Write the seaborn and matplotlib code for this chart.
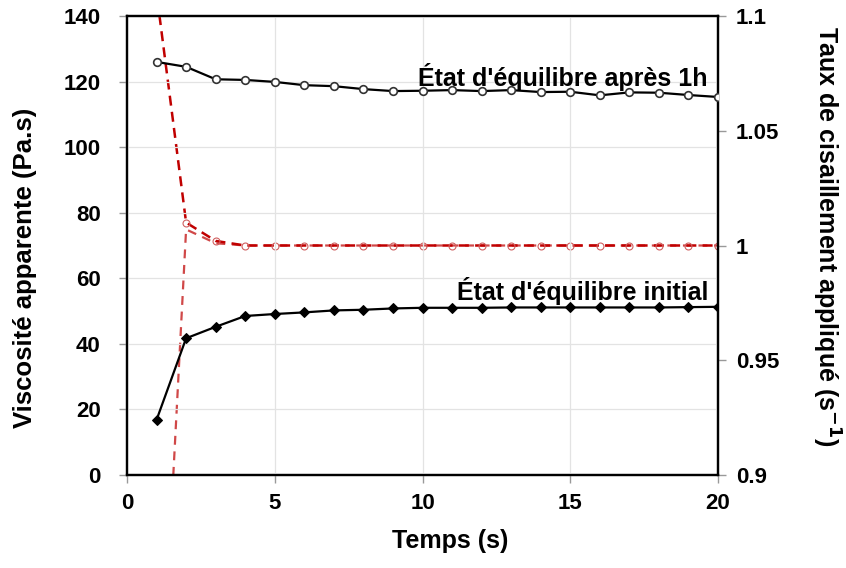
import numpy as np
import pandas as pd
import matplotlib
matplotlib.use('Agg')
import matplotlib.pyplot as plt
import seaborn as sns

# temps (s)
temps = list(range(1, 21))

# viscosite apparente (Pa.s)
visc_apres_1h = [126.0, 124.5, 120.7, 120.5, 119.9, 118.9, 118.6, 117.7, 117.1, 117.2,
                 117.4, 117.1, 117.4, 116.8, 116.9, 115.8, 116.7, 116.6, 115.9, 115.3]
visc_initial = [16.8, 41.7, 45.2, 48.5, 49.1, 49.6, 50.2, 50.4, 50.8, 51.0,
                51.0, 51.0, 51.1, 51.1, 51.1, 51.1, 51.1, 51.1, 51.2, 51.3]

# taux de cisaillement applique (s-1)
taux_apres_1h = [1.11, 1.010, 1.002, 1.0, 1.0, 1.0, 1.0, 1.0, 1.0, 1.0,
                 1.0, 1.0, 1.0, 1.0, 1.0, 1.0, 1.0, 1.0, 1.0, 1.0]
taux_initial = [0.76, 1.007, 1.001, 1.0, 1.0, 1.0, 1.0, 1.0, 1.0, 1.0,
                1.0, 1.0, 1.0, 1.0, 1.0, 1.0, 1.0, 1.0, 1.0, 1.0]

df = pd.DataFrame({'temps': temps, 'visc_1h': visc_apres_1h, 'visc_init': visc_initial,
                   'taux_1h': taux_apres_1h, 'taux_init': taux_initial})

sns.set_style('whitegrid')
plt.rcParams['font.family'] = ['Liberation Sans', 'DejaVu Sans']
plt.rcParams['font.weight'] = 'bold'
plt.rcParams['text.color'] = 'black'
plt.rcParams['axes.labelcolor'] = 'black'

fig = plt.figure(figsize=(8.46, 5.68), dpi=100)
ax = fig.add_axes([127 / 846, 1 - 475 / 568, (718 - 127) / 846, (475 - 16) / 568])
ax2 = ax.twinx()

red = '#c00000'
sns.lineplot(data=df, x='temps', y='taux_init', ax=ax2, color='#d04848', lw=1.6,
             linestyle=(0, (4, 3)), zorder=1)
sns.lineplot(data=df, x='temps', y='taux_1h', ax=ax2, color=red, lw=1.8,
             linestyle=(0, (4, 2.5)), marker='o', markersize=5, markerfacecolor='none',
             markeredgecolor='#d06060', markeredgewidth=0.8, zorder=1)

sns.lineplot(data=df, x='temps', y='visc_1h', ax=ax, color='black', lw=1.6,
             marker='o', markersize=5.5, markerfacecolor='white', markeredgecolor='#333333',
             markeredgewidth=1.2, zorder=3)
sns.lineplot(data=df, x='temps', y='visc_init', ax=ax, color='black', lw=1.6,
             marker='D', markersize=5.5, markerfacecolor='black', markeredgecolor='black', zorder=3)

ax.set_zorder(ax2.get_zorder() + 1)
ax.patch.set_visible(False)

ax.set_xlim(0, 20)
ax.set_ylim(0, 140)
ax.set_xticks([0, 5, 10, 15, 20])
ax.set_yticks(range(0, 141, 20))
ax2.set_ylim(0.9, 1.1)
ax2.set_yticks([0.9, 0.95, 1.0, 1.05, 1.1])
ax2.set_yticklabels(['0.9', '0.95', '1', '1.05', '1.1'])
ax2.grid(False)
ax.grid(True, color='#e3e3e3', lw=0.9)

for a in (ax, ax2):
    a.tick_params(labelsize=16, length=6, width=1, color='#999999', pad=7,
                  labelcolor='black', direction='out')
    for lab in a.get_xticklabels() + a.get_yticklabels():
        lab.set_fontweight('bold')
    for s in a.spines.values():
        s.set_color('black')
        s.set_linewidth(1.6)
ax.tick_params(axis='x', bottom=True)
ax.tick_params(axis='y', left=True, pad=13)
ax2.tick_params(axis='y', right=True)

ax.set_xlabel('Temps (s)', fontsize=18, fontweight='bold')
ax.set_ylabel('Viscosité apparente (Pa.s)', fontsize=18.5, fontweight='bold')
ax2.set_ylabel('Taux de cisaillement appliqué (s$^{\\mathbf{-1}}$)', fontsize=18,
               fontweight='bold', rotation=270)
for lab in (ax.xaxis.label, ax.yaxis.label, ax2.yaxis.label):
    lab.set_va('center')
    lab.set_ha('center')
ax.xaxis.set_label_coords(0.547, -0.144)
ax.yaxis.set_label_coords(-0.1726, 0.451)
ax2.yaxis.set_label_coords(1.183, 0.521)

ax.text(19.66, 121.5, "État d'équilibre après 1h", ha='right', va='center',
        fontsize=18, fontweight='bold')
ax.text(19.66, 56, "État d'équilibre initial", ha='right', va='center',
        fontsize=18, fontweight='bold')

fig.savefig('out.png', dpi=100)
